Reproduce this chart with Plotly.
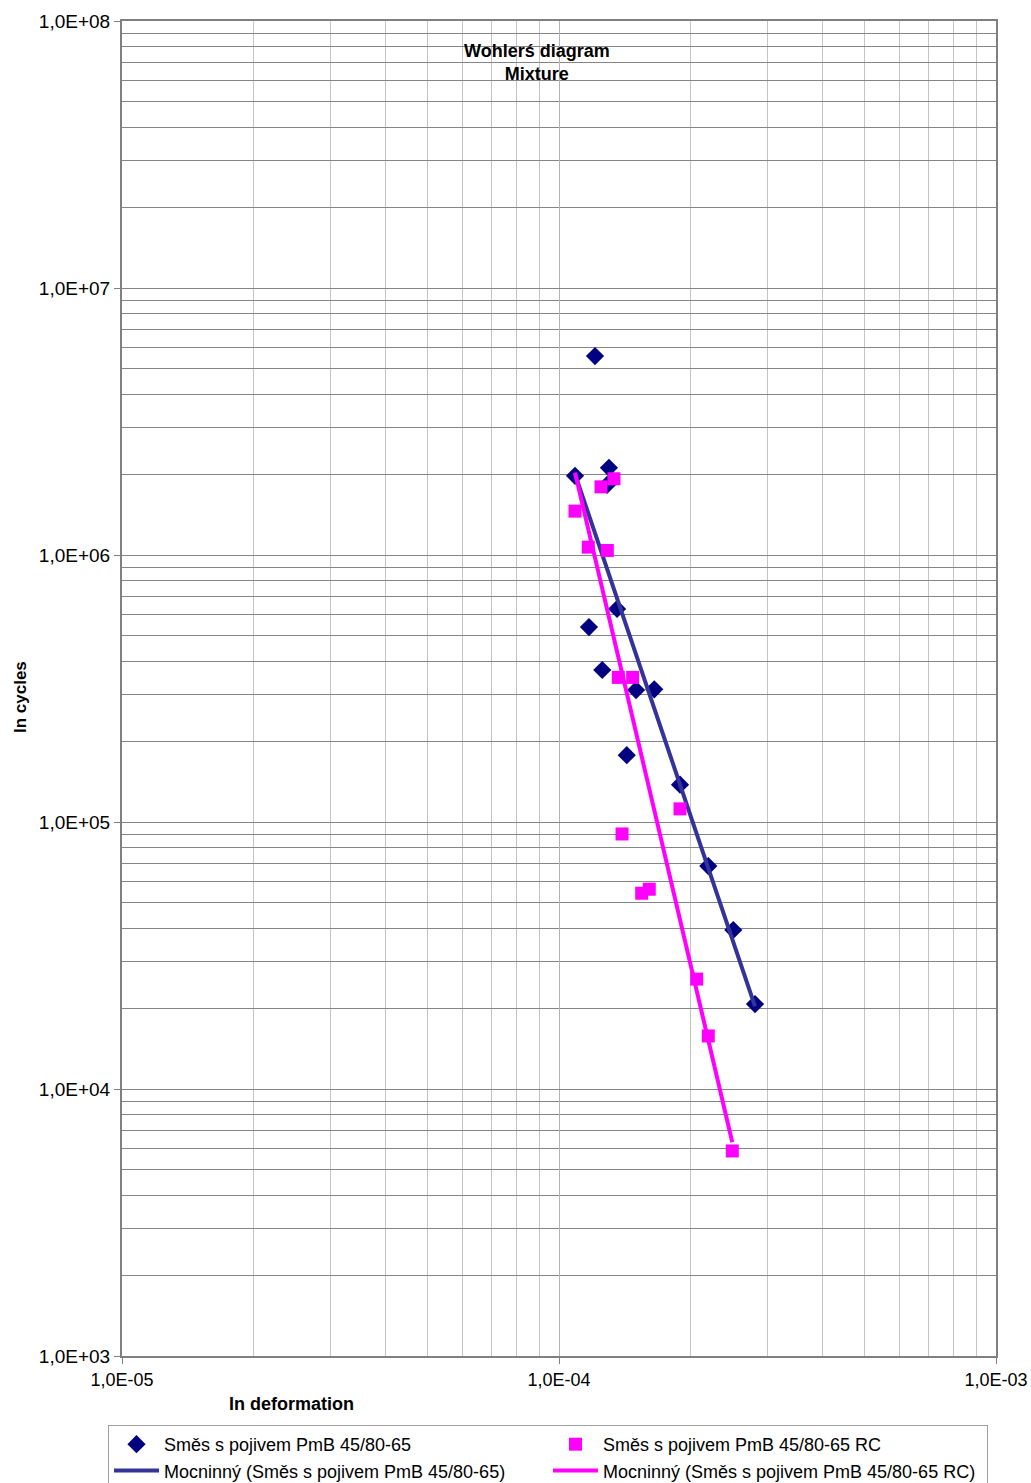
import numpy as np
import plotly.graph_objects as go

# ---- data ----
series1_name = "Směs s pojivem PmB 45/80-65"
series1_def = [1.088e-4, 1.209e-4, 1.301e-4, 1.288e-4, 1.358e-4, 1.171e-4, 1.256e-4,
               1.501e-4, 1.652e-4, 1.429e-4, 1.892e-4, 2.196e-4, 2.505e-4, 2.809e-4]
series1_cyc = [1.98e6, 5.56e6, 2.12e6, 1.83e6, 6.28e5, 5.37e5, 3.71e5,
               3.12e5, 3.14e5, 1.78e5, 1.38e5, 6.84e4, 3.94e4, 2.08e4]

series2_name = "Směs s pojivem PmB 45/80-65 RC"
series2_def = [1.088e-4, 1.248e-4, 1.336e-4, 1.167e-4, 1.290e-4, 1.367e-4, 1.474e-4,
               1.394e-4, 1.892e-4, 1.546e-4, 1.609e-4, 2.066e-4, 2.196e-4, 2.492e-4]
series2_cyc = [1.46e6, 1.80e6, 1.93e6, 1.07e6, 1.04e6, 3.48e5, 3.48e5,
               9.02e4, 1.12e5, 5.41e4, 5.60e4, 2.58e4, 1.58e4, 5.86e3]

trend1_name = "Mocninný (Směs s pojivem PmB 45/80-65)"
trend2_name = "Mocninný (Směs s pojivem PmB 45/80-65 RC)"

x_tickvals = [1e-5, 1e-4, 1e-3]
x_ticktext = ["1,0E-05", "1,0E-04", "1,0E-03"]
y_tickvals = [1e3, 1e4, 1e5, 1e6, 1e7, 1e8]
y_ticktext = ["1,0E+03", "1,0E+04", "1,0E+05", "1,0E+06", "1,0E+07", "1,0E+08"]

title_lines = ["Wohlerś diagram", "Mixture"]
x_title = "In deformation"
y_title = "In cycles"


def power_fit(xs, ys):
    lx, ly = np.log10(xs), np.log10(ys)
    b, a = np.polyfit(lx, ly, 1)
    xr = np.array([min(xs), max(xs)])
    return xr, 10 ** (a + b * np.log10(xr))


t1x, t1y = power_fit(series1_def, series1_cyc)
t2x, t2y = power_fit(series2_def, series2_cyc)

FONT = "Liberation Sans, Arial, sans-serif"

# the page body margin is removed (post_script), figure fills the window
W, H = 1031, 1483
PL, PT, PR, PB = 122, 21, 996, 1356  # plot area in page pixels
PW, PH = PR - PL, PB - PT


def px(xp):
    return (xp - PL) / PW


def py(yp):
    return (PB - yp) / PH


fig = go.Figure()
fig.add_trace(go.Scatter(x=series1_def, y=series1_cyc, mode="markers", name=series1_name,
                         marker=dict(symbol="diamond", size=14, color="#000080"), legendrank=1))
fig.add_trace(go.Scatter(x=t1x, y=t1y, mode="lines", name=trend1_name,
                         line=dict(color="#333399", width=4), legendrank=3))
fig.add_trace(go.Scatter(x=t2x, y=t2y, mode="lines", name=trend2_name,
                         line=dict(color="#FF00FF", width=4), legendrank=4))
fig.add_trace(go.Scatter(x=series2_def, y=series2_cyc, mode="markers", name=series2_name,
                         marker=dict(symbol="square", size=13, color="#FF00FF"), legendrank=2))

minor_x = [m * 10.0 ** e for e in (-5, -4) for m in range(2, 10)]
minor_y = [m * 10.0 ** e for e in (3, 4, 5, 6, 7) for m in range(2, 10)]

fig.update_xaxes(type="log", range=[-5, -3], tickmode="array", tickvals=x_tickvals,
                 ticktext=x_ticktext, ticks="outside", ticklen=6, tickcolor="#808080",
                 showgrid=True, gridcolor="#b4b4b4", gridwidth=1,
                 minor=dict(tickmode="array", tickvals=minor_x, showgrid=True,
                            gridcolor="#c4c4c4", gridwidth=1, ticks=""),
                 showline=True, linecolor="#808080", linewidth=2, mirror=True,
                 zeroline=False, tickfont=dict(family=FONT, size=18, color="black"))
fig.update_yaxes(type="log", range=[3, 8], tickmode="array", tickvals=y_tickvals,
                 ticktext=y_ticktext, ticks="outside", ticklen=6, tickcolor="#808080",
                 showgrid=True, gridcolor="#858585", gridwidth=1,
                 minor=dict(tickmode="array", tickvals=minor_y, showgrid=True,
                            gridcolor="#858585", gridwidth=1, ticks=""),
                 showline=True, linecolor="#808080", linewidth=2, mirror=True,
                 zeroline=False, tickfont=dict(family=FONT, size=19, color="black"))

annotations = [
    dict(text="<b>" + "<br>".join(title_lines) + "</b>", x=px(537), y=py(63),
         xanchor="center", yanchor="middle",
         xref="paper", yref="paper", showarrow=False, font=dict(family=FONT, size=18, color="black")),
    dict(text="<b>" + x_title + "</b>", x=px(291), y=py(1404), xanchor="center", yanchor="middle",
         xref="paper", yref="paper", showarrow=False, font=dict(family=FONT, size=18, color="black")),
    dict(text="<b>" + y_title + "</b>", x=px(20), y=py(697), textangle=-90,
         xanchor="center", yanchor="middle",
         xref="paper", yref="paper", showarrow=False, font=dict(family=FONT, size=17, color="black")),
]

fig.update_layout(
    width=W, height=H,
    margin=dict(l=PL, r=W - PR, t=PT, b=H - PB, autoexpand=False),
    paper_bgcolor="white", plot_bgcolor="white",
    annotations=annotations,
    showlegend=True,
    legend=dict(orientation="h", x=px(108), xanchor="left",
                y=py(1425), yanchor="top",
                entrywidth=379, entrywidthmode="pixels", itemwidth=45,
                bordercolor="#a0a0a0", borderwidth=1, bgcolor="white",
                font=dict(family=FONT, size=18, color="black"),
                tracegroupgap=0),
)

fig.write_html(
    "out.html",
    config={"displayModeBar": False},
    post_script="document.body.style.margin='0';document.body.style.overflow='hidden';",
)
